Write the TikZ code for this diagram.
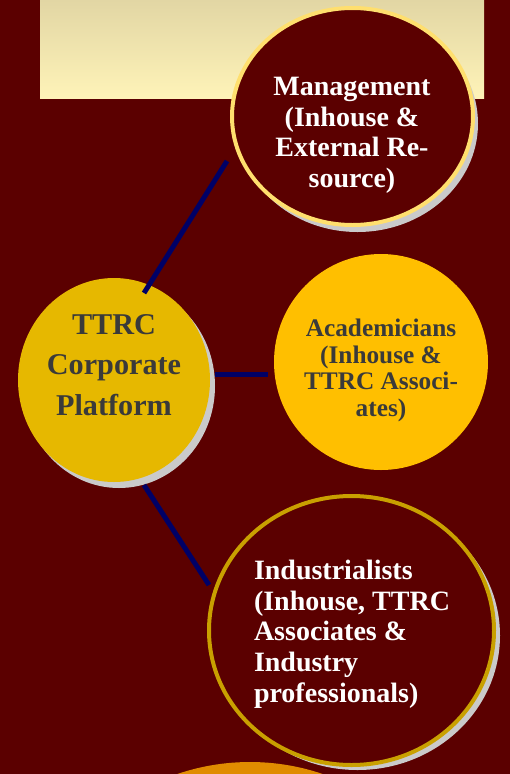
\documentclass[tikz,border=0pt]{standalone}
\usepackage{fontspec}
\setmainfont{Liberation Serif}
\usetikzlibrary{shapes.geometric,shadows}
\definecolor{bgmaroon}{HTML}{5B0000}
\definecolor{creamtop}{HTML}{E2D6A4}
\definecolor{creambot}{HTML}{FEF3B8}
\definecolor{paleyellow}{HTML}{FFDF6E}
\definecolor{goldfill}{HTML}{E6B800}
\definecolor{amberfill}{HTML}{FFBF00}
\definecolor{darkgold}{HTML}{C9A000}
\definecolor{orangebit}{HTML}{E08C00}
\definecolor{shadowgray}{HTML}{CACACA}
\definecolor{navyline}{HTML}{000066}
\definecolor{darktext}{HTML}{3A3A3A}
\begin{document}
\begin{tikzpicture}[x=1pt,y=-1pt,
  bubble/.style={ellipse, inner sep=0pt, outer sep=0pt},
  ringbubble/.style={bubble, fill=bgmaroon, line width=4pt},
  lbl/.style={inner sep=0pt, outer sep=0pt},
  connector/.style={draw=navyline, line width=5pt}]
\useasboundingbox (0,0) rectangle (510,774);
\clip (0,0) rectangle (510,774);
\fill[bgmaroon] (0,0) rectangle (510,774);
\shade[top color=creamtop, bottom color=creambot] (40,0) rectangle (484,98);
% partial orange bubble at the bottom
\node[bubble, fill=orangebit, minimum width=450pt, minimum height=450pt] (orangebub) at (250,987) {};
% bubbles
\node[ringbubble, draw=paleyellow, minimum width=241pt, minimum height=217pt,
  general shadow={fill=shadowgray, shadow xshift=5pt, shadow yshift=-7pt}] (mgmt) at (352.5,116.5) {};
\node[bubble, fill=goldfill, minimum width=192pt, minimum height=204pt,
  general shadow={fill=shadowgray, shadow xshift=5pt, shadow yshift=-6pt}] (ttrc) at (114,380) {};
\node[bubble, fill=amberfill, minimum width=214pt, minimum height=216pt] (acad) at (381,362) {};
\node[ringbubble, draw=darkgold, minimum width=285pt, minimum height=269pt,
  general shadow={fill=shadowgray, shadow xshift=6pt, shadow yshift=-5pt}] (ind) at (351.5,630.5) {};
% texts
\node[lbl, text=white, align=center, anchor=north,
  font={\fontsize{28}{30.4}\selectfont\bfseries}] (mgmttext) at (352,77.5)
  {Management\\(Inhouse \&\\External Re-\\source)};
\node[lbl, text=darktext, align=center, anchor=north,
  font={\fontsize{30.2}{40.5}\selectfont\bfseries}] (ttrctext) at (114,314)
  {TTRC\\Corporate\\Platform};
\node[lbl, text=darktext, align=center, anchor=north,
  font={\fontsize{25.3}{26.7}\selectfont\bfseries}] (acadtext) at (381,319)
  {Academicians\\(Inhouse \&\\TTRC Associ-\\ates)};
\node[lbl, text=white, align=left, anchor=north west,
  font={\fontsize{28}{30.75}\selectfont\bfseries}] (indtext) at (254,560)
  {Industrialists\\(Inhouse, TTRC\\Associates \&\\Industry\\professionals)};
% connector end points
\coordinate (l1a) at ([shift={(30,-87)}]ttrc.center);
\coordinate (l1b) at ([shift={(-125.5,44.5)}]mgmt.center);
\coordinate (l2a) at ([shift={(101,-6)}]ttrc.center);
\coordinate (l2b) at ([shift={(-113,12)}]acad.center);
\coordinate (l3a) at ([shift={(30,105)}]ttrc.center);
\coordinate (l3b) at ([shift={(-142.5,-45.5)}]ind.center);
\draw[connector] (l1a) -- (l1b);
\draw[connector] (l2a) -- (l2b);
\draw[connector] (l3a) -- (l3b);
\end{tikzpicture}
\end{document}
